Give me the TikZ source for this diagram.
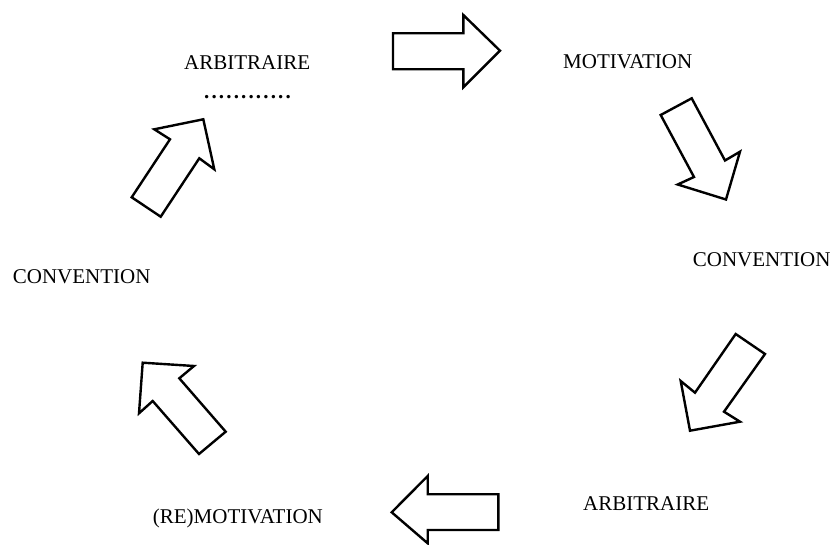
\documentclass[tikz,border=0pt]{standalone}
\usepackage{fontspec}
\setmainfont{Liberation Serif}
\newcommand\onedot{\makebox[7.4pt]{.}}
\begin{document}
\begin{tikzpicture}[x=1pt,y=-1pt,
  blockarrow/.style={draw=black,line width=2.4pt,line join=miter,fill=white},
  label/.style={inner sep=0pt,anchor=base west,font=\fontsize{21}{24}\selectfont}]
\useasboundingbox (0,0) rectangle (831,545);
% labels
\node[label] (arb1) at (184,70) {ARBITRAIRE};
\node[label,anchor=base] (dots) at (247.5,99) {\bfseries\onedot\onedot\onedot\onedot\onedot\onedot\onedot\onedot\onedot\onedot\onedot\onedot};
\node[label] (mot) at (563,69) {MOTIVATION};
\node[label] (conv1) at (692.7,266.7) {CONVENTION};
\node[label] (arb2) at (583,510.5) {ARBITRAIRE};
\node[label] (remot) at (152.7,523.3) {(RE)MOTIVATION};
\node[label] (conv2) at (12.7,283.3) {CONVENTION};
% block arrows
\draw[blockarrow] (393,33.3) -- (463.3,33.3) -- (463.3,15) -- (500,50.7) -- (463.3,87.3) -- (463.3,69.3) -- (393,69.3) -- cycle;
\draw[blockarrow] (660.7,115) -- (694,177) -- (677.7,184.5) -- (726,199.5) -- (740,151.7) -- (725,160.5) -- (691.7,98.3) -- cycle;
\draw[blockarrow] (735.7,334) -- (695,392.7) -- (680.7,381) -- (690,430.7) -- (740,421.7) -- (724,411.7) -- (765,354) -- cycle;
\draw[blockarrow] (498.3,494.3) -- (427.7,494.3) -- (427.7,476) -- (391.7,512.3) -- (427.7,543.3) -- (427.7,530) -- (498.3,530) -- cycle;
\draw[blockarrow] (199,454) -- (152.7,401) -- (139,413.3) -- (142.7,362.7) -- (194,366) -- (179.3,378.3) -- (225.7,431.7) -- cycle;
\draw[blockarrow] (131.7,197.3) -- (170,139.3) -- (154.3,129.3) -- (203.3,119.3) -- (214.3,169.3) -- (199.3,158.3) -- (160.7,216.7) -- cycle;
\end{tikzpicture}
\end{document}
